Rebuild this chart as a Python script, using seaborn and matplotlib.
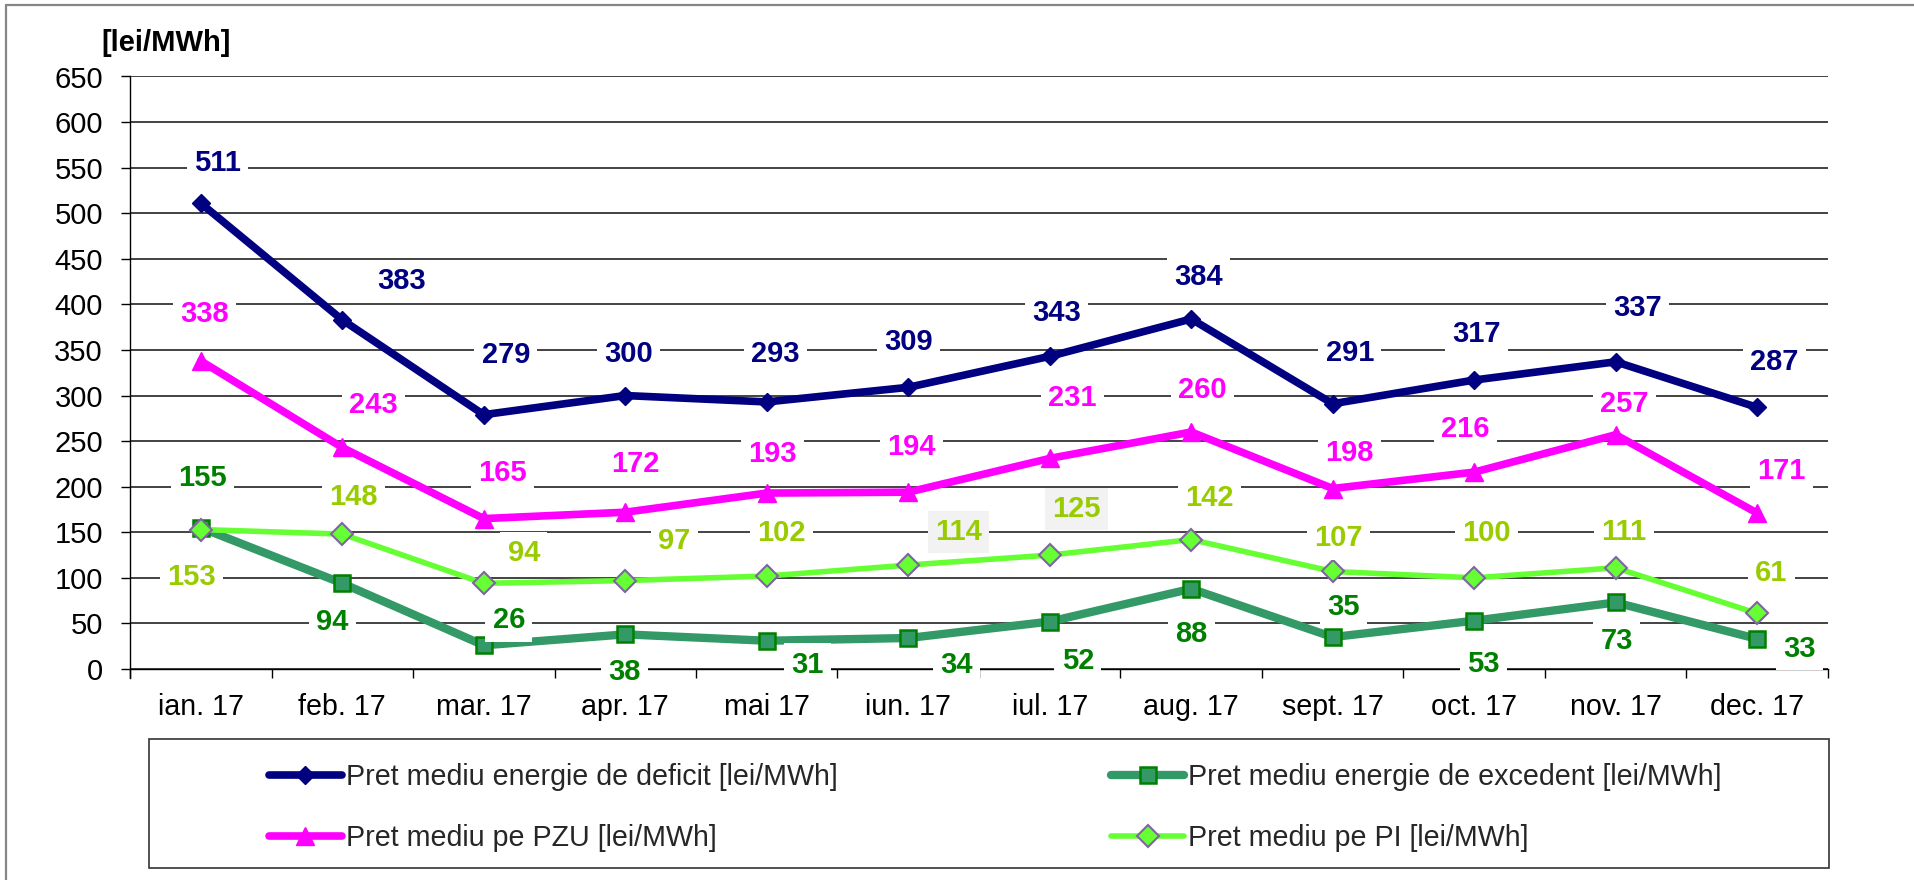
import numpy as np
import pandas as pd
import matplotlib
matplotlib.use("Agg")
import matplotlib.pyplot as plt
from matplotlib.lines import Line2D
from matplotlib.patches import Rectangle
import seaborn as sns

# ---------------- data ----------------
months = ["ian. 17", "feb. 17", "mar. 17", "apr. 17", "mai 17", "iun. 17",
          "iul. 17", "aug. 17", "sept. 17", "oct. 17", "nov. 17", "dec. 17"]
deficit = [511, 383, 279, 300, 293, 309, 343, 384, 291, 317, 337, 287]
excedent = [155, 94, 26, 38, 31, 34, 52, 88, 35, 53, 73, 33]
pzu = [338, 243, 165, 172, 193, 194, 231, 260, 198, 216, 257, 171]
pi = [153, 148, 94, 97, 102, 114, 125, 142, 107, 100, 111, 61]

names = ["Pret mediu energie de deficit [lei/MWh]",
         "Pret mediu energie de excedent [lei/MWh]",
         "Pret mediu pe PZU [lei/MWh]",
         "Pret mediu pe PI [lei/MWh]"]
y_label = "[lei/MWh]"
y_ticks = list(range(0, 651, 50))

# label offsets from each point, in pixels (dx right, dy up)
off_deficit = [(17, 40), (59, 39), (22, 60), (3, 42), (9, 48), (0, 45), (7, 43), (7, 42),
               (17, 51), (2, 46), (22, 54), (17, 45)]
off_pzu = [(4, 47), (31, 42), (19, 46), (10, 48), (6, 39), (3, 45), (23, 60), (11, 42),
           (17, 36), (-9, 43), (9, 31), (24, 42)]
off_exc = [(2, 50), (-10, -39), (25, 25), (-1, -38), (41, -24), (48, -27), (28, -39), (0, -45),
           (11, 30), (9, -43), (1, -39), (42, -10)]
off_pi = [(-9, -47), (11, 37), (40, 30), (49, 40), (15, 43), (50, 33), (27, 46), (18, 42),
          (6, 33), (12, 45), (8, 36), (14, 40)]
gray_box_pi = [5, 6]

# ---------------- style ----------------
sns.set_style("white")
plt.rcParams["font.family"] = ["Liberation Sans", "DejaVu Sans"]

FS = 21
LFS = 20.6
W, H, DPI = 1915, 880, 100
fig = plt.figure(figsize=(W / DPI, H / DPI), dpi=DPI)
ax = fig.add_axes([130 / W, 1 - 669 / H, (1828 - 130) / W, (669 - 76.5) / H])

idx = np.arange(len(months))
df = pd.DataFrame({"idx": idx, "deficit": deficit, "excedent": excedent,
                   "pzu": pzu, "pi": pi})

PX = 72.0 / DPI  # points per pixel

specs = [
    ("deficit", "#000080", 5.5, "D", 9, "#000080", "#000080", 1.0),
    ("excedent", "#339966", 6.0, "s", 12, "#339966", "#008000", 1.8),
    ("pzu", "#FF00FF", 5.5, "^", 13, "#FF00FF", "#FF00FF", 1.0),
    ("pi", "#66FF33", 4.0, "D", 11, "#66FF33", "#8064A2", 1.5),
]
for k, (col, c, lw, mk, ms, mfc, mec, mew) in enumerate(specs):
    sns.lineplot(data=df, x="idx", y=col, ax=ax, color=c, linewidth=lw,
                 marker=mk, markersize=ms, markerfacecolor=mfc,
                 markeredgecolor=mec, markeredgewidth=mew, legend=False,
                 zorder=3 + k, clip_on=False)

ax.set_xlim(-0.5, len(months) - 0.5)
ax.set_ylim(0, 650)
ax.set_xlabel("")
ax.set_ylabel("")

ax.set_yticks(y_ticks)
ax.set_yticklabels([str(v) for v in y_ticks])
ax.set_xticks(idx)
ax.set_xticklabels(months)
ax.set_xticks(np.arange(-0.5, len(months), 1.0), minor=True)
ax.tick_params(axis="x", which="major", length=0, labelsize=LFS, pad=11 + 6.5, colors="black")
ax.tick_params(axis="x", which="minor", length=6.5, width=1.0, direction="out",
               color="black", bottom=True)
ax.tick_params(axis="y", which="major", length=6.5, width=1.0, direction="out",
               labelsize=FS, pad=13, colors="black", left=True)

ax.grid(axis="y", color="#222222", linewidth=1.2, zorder=0)
ax.grid(axis="x", visible=False)
ax.set_axisbelow(True)
for s in ["top", "right"]:
    ax.spines[s].set_visible(False)
for s in ["left", "bottom"]:
    ax.spines[s].set_color("black")
    ax.spines[s].set_linewidth(1.0)
ax.spines["left"].set_bounds(-9 / 0.912, 650)

# data labels
label_sets = [
    (deficit, off_deficit, "#000080", []),
    (excedent, off_exc, "#008000", []),
    (pzu, off_pzu, "#FF00FF", []),
    (pi, off_pi, "#99CC00", gray_box_pi),
]
for vals, offs, c, grays in label_sets:
    for i, v in enumerate(vals):
        dx, dy = offs[i]
        fc = "#F2F2F2" if i in grays else "white"
        ax.annotate(str(v), xy=(idx[i], v), xytext=(dx * PX, dy * PX),
                    textcoords="offset points", ha="center", va="center",
                    fontsize=FS, fontweight="bold", color=c, zorder=10,
                    annotation_clip=False,
                    bbox=dict(boxstyle="square,pad=0.25", fc=fc, ec="none"))

# y unit label
fig.text(166 / W, 1 - 43 / H, y_label, ha="center", va="center",
         fontsize=FS, fontweight="bold", color="black")

# legend
handles = ax.lines[:4]
order = [0, 2, 1, 3]
leg = fig.legend([handles[o] for o in order], [names[o] for o in order],
                 loc="center left", bbox_to_anchor=(269 / W, 1 - 807.5 / H),
                 ncol=2, frameon=False, fontsize=LFS, handlelength=2.55,
                 handletextpad=0.15, columnspacing=9.55, labelspacing=1.15,
                 borderpad=0, borderaxespad=0, numpoints=1)

fig.add_artist(Rectangle((149 / W, 1 - 868 / H), (1829 - 149) / W, (868 - 739) / H,
                         transform=fig.transFigure, fill=False, ec="#333333", lw=1.2))

# outer chart border (top and left visible)
fig.add_artist(Line2D([6 / W, 1.0], [1 - 5.5 / H, 1 - 5.5 / H], transform=fig.transFigure,
                      color="#868686", lw=1.6))
fig.add_artist(Line2D([6 / W, 6 / W], [0.0, 1 - 5.5 / H], transform=fig.transFigure,
                      color="#868686", lw=1.6))

fig.savefig("out.png", dpi=DPI)
